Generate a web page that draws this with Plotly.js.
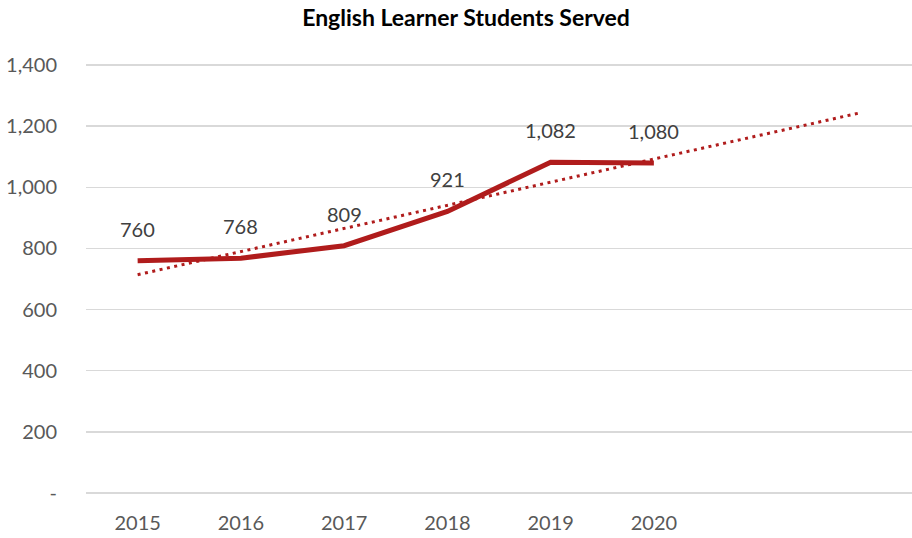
<!DOCTYPE html>
<html>
<head>
<meta charset="utf-8">
<script src="https://cdn.plot.ly/plotly-3.0.1.min.js"></script>
<style>html,body{margin:0;padding:0;background:#fff;}#chart{width:912px;height:538px;}</style>
</head>
<body>
<div id="chart"></div>
<script>
const years = [2015, 2016, 2017, 2018, 2019, 2020];
const students = [760, 768, 809, 921, 1082, 1080];
const labels = ['760', '768', '809', '921', '1,082', '1,080'];
const trendYears = [2015, 2022];
const trendValues = [714, 1244];
const yTickVals = [0, 200, 400, 600, 800, 1000, 1200, 1400];
const yTickText = ['-', '200', '400', '600', '800', '1,000', '1,200', '1,400'];
const xTickVals = [2015, 2016, 2017, 2018, 2019, 2020];
const xTickText = ['2015', '2016', '2017', '2018', '2019', '2020'];

const red = '#b01c1c';
const font = 'Lato, "Open Sans", sans-serif';

const traces = [
  {
    x: trendYears, y: trendValues, mode: 'lines', type: 'scatter',
    line: {color: red, width: 3, dash: '3px,4.5px'}, hoverinfo: 'skip', showlegend: false
  },
  {
    x: years, y: students, mode: 'lines', type: 'scatter',
    line: {color: red, width: 5},
    showlegend: false
  }
];

const annotations = years.map((yr, i) => ({
  x: yr, y: students[i], xref: 'x', yref: 'y', text: labels[i], showarrow: false,
  yshift: 32, yanchor: 'middle', xanchor: 'center',
  font: {family: font, size: 20, color: '#404040'}
}));

const layout = {
  width: 912, height: 538,
  margin: {l: 86, r: 0, t: 59, b: 39},
  paper_bgcolor: '#fff', plot_bgcolor: '#fff',
  title: {text: '<b>English Learner Students Served</b>', x: 0.511, xanchor: 'center', y: 0.966, yanchor: 'middle',
          font: {family: font, size: 23, color: '#000'}},
  xaxis: {
    range: [2014.5, 2022.5], tickvals: xTickVals, ticktext: xTickText,
    showgrid: false, zeroline: false, showline: false, ticks: '',
    tickfont: {family: font, size: 20, color: '#595959'}, ticklabelstandoff: 10
  },
  yaxis: {
    range: [-20, 1420], tickvals: yTickVals, ticktext: yTickText,
    showgrid: true, gridcolor: '#d9d9d9', gridwidth: 1.5, zeroline: false, showline: false, ticks: '',
    tickfont: {family: font, size: 20, color: '#595959'}, ticklabelstandoff: 28
  },
  annotations: annotations
};

Plotly.newPlot('chart', traces, layout, {displayModeBar: false, staticPlot: true});
</script>
</body>
</html>
